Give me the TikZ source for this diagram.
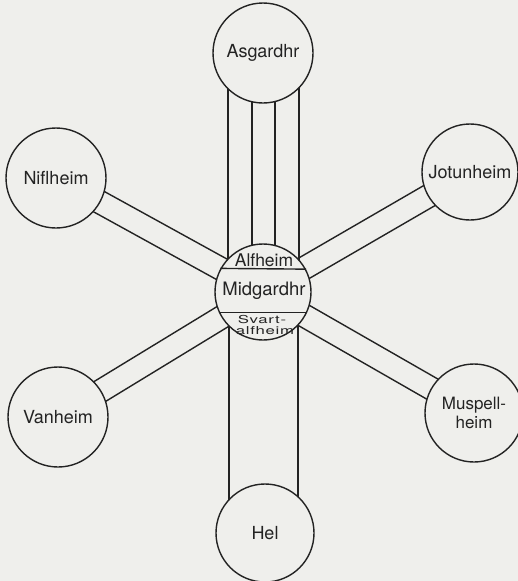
\documentclass[tikz,border=0pt]{standalone}
\usepackage{fontspec}
\setmainfont{TeX Gyre Heros}
\usetikzlibrary{calc}
\definecolor{bgc}{RGB}{239,239,236}
\definecolor{ink}{RGB}{35,35,35}
\tikzset{
  world/.style={circle, draw=ink, line width=1.4pt, fill=bgc, inner sep=0pt,
    font=\fontsize{18}{19}\selectfont, text=ink, align=center},
  bar/.style={draw=ink, line width=1.4pt},
  small/.style={inner sep=0pt, text=ink, font=\fontsize{14}{14}\selectfont\addfontfeature{LetterSpace=4}},
}
\begin{document}
\begin{tikzpicture}[x=1pt,y=-1pt]
\fill[bgc] (0,0) rectangle (518,581);
\useasboundingbox (0,0) rectangle (518,581);
% node centres (drawn later on top)
\coordinate (asgc) at (263,53);
\coordinate (midc) at (263,292);
\coordinate (helc) at (265,533);
\coordinate (nifc) at (56,178);
\coordinate (jotc) at (470,172);
\coordinate (vanc) at (58,417);
\coordinate (musc) at (474,413);
% Asgardhr columns
\foreach \dx in {-35,-11,12,36}
  \draw[bar] ([xshift=\dx]asgc) -- ([xshift=\dx]asgc |- midc);
% Hel columns
\foreach \dx in {-34,35}
  \draw[bar] ([xshift=\dx]midc) -- ([xshift=\dx]midc |- helc);
% diagonal bars
\foreach \o in {nifc,jotc,vanc,musc}{
  \draw[bar] ($(\o)!11.5pt!90:(midc)$) -- ($(midc)!11.5pt!-90:(\o)$);
  \draw[bar] ($(\o)!11.5pt!-90:(midc)$) -- ($(midc)!11.5pt!90:(\o)$);
}
% worlds
\node[world, minimum size=100] (asg) at (asgc) {Asgardhr};
\node[world, minimum size=100] (nif) at (nifc) {Niflheim};
\node[world, minimum size=96] (jot) at (jotc) {Jotunheim};
\node[world, minimum size=100] (van) at (vanc) {Vanheim};
\node[world, minimum size=98, font=\fontsize{17}{19}\selectfont] (mus) at (musc) {Muspell-\\heim};
\node[world, minimum size=98] (hel) at (helc) {Hel};
\node[world, minimum size=96] (mid) at (midc) {};
\draw[bar] (mid.151.3) -- (mid.28.7);
\draw[bar] (mid.205.9) -- (mid.-25.9);
\node[font=\fontsize{17.5}{19}\selectfont, text=ink] (alf) at (264,260) {Alfheim};
\node[font=\fontsize{18.5}{20}\selectfont, text=ink] (midt) at (264,291) {Midgardhr};
\node[small, anchor=base] (sv1) at (262,323) {\scalebox{1.2}[0.78]{Svart-}};
\node[small, anchor=base] (sv2) at (265,334) {\scalebox{1.2}[0.78]{alfheim}};
\end{tikzpicture}
\end{document}
